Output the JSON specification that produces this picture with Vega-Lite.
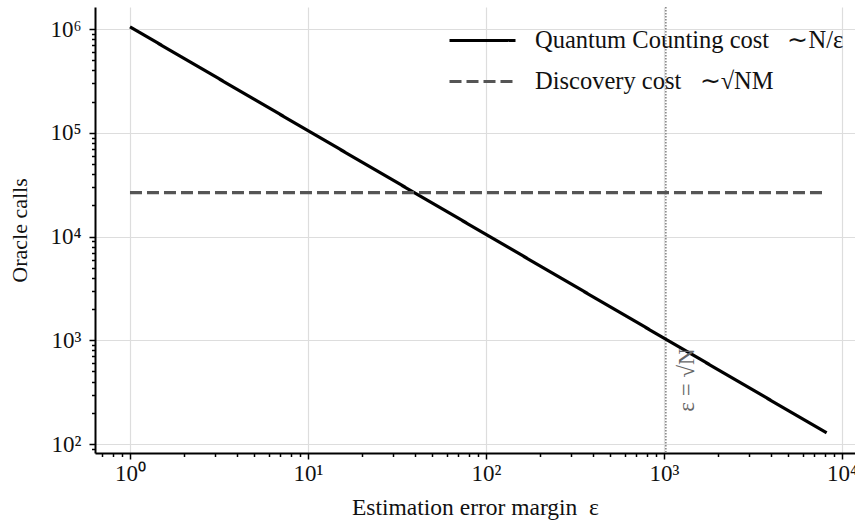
{
  "$schema": "https://vega.github.io/schema/vega-lite/v6.json",
  "width": 760,
  "height": 446,
  "autosize": {"type": "none"},
  "padding": {"left": 95, "top": 7, "right": 0, "bottom": 73},
  "background": "white",
  "config": {
    "view": {"stroke": null},
    "font": "Liberation Serif",
    "legend": {
      "orient": "none",
      "legendX": 371,
      "legendY": 17,
      "title": null,
      "symbolType": "M-2.2,0H2.2",
      "symbolSize": 900,
      "symbolStrokeWidth": 3,
      "labelFont": "Liberation Serif",
      "labelFontSize": 24.5,
      "labelColor": "#111",
      "labelOffset": 36,
      "rowPadding": 13,
      "labelLimit": 400
    }
  },
  "datasets": {
    "series": [
      {"eps": 1, "calls": 1048576, "series": "Quantum Counting cost\u00a0\u00a0 ∼N/ε"},
      {"eps": 8192, "calls": 128, "series": "Quantum Counting cost\u00a0\u00a0 ∼N/ε"},
      {"eps": 1, "calls": 26500, "series": "Discovery cost\u00a0\u00a0 ∼√NM"},
      {"eps": 8192, "calls": 26500, "series": "Discovery cost\u00a0\u00a0 ∼√NM"}
    ],
    "threshold": [{"eps": 1024}],
    "note": [{"eps": 1346, "calls": 414, "label": "ε = √N"}]
  },
  "layer": [
    {
      "data": {"name": "threshold"},
      "mark": {"type": "rule", "color": "#888888", "strokeWidth": 1.6, "strokeDash": [1.5, 1.5]},
      "encoding": {
        "x": {"field": "eps", "type": "quantitative", "scale": {"type": "log", "domain": [0.636, 11830]}, "title": "Estimation error margin\u00a0\u00a0ε"}
      }
    },
    {
      "data": {"name": "series"},
      "mark": {"type": "line", "strokeWidth": 3.2, "clip": true},
      "encoding": {
        "x": {
          "field": "eps", "type": "quantitative",
          "scale": {"type": "log", "domain": [0.636, 11830]},
          "title": "Estimation error margin\u00a0\u00a0ε",
          "axis": {
            "values": [0.7,0.8,0.9,1,2,3,4,5,6,7,8,9,10,20,30,40,50,60,70,80,90,100,200,300,400,500,600,700,800,900,1000,2000,3000,4000,5000,6000,7000,8000,9000,10000],
            "labelExpr": "abs(log(datum.value)/LN10 - round(log(datum.value)/LN10)) < 0.001 ? '10' + substring('⁰¹²³⁴⁵⁶⁷⁸⁹', round(log(datum.value)/LN10), round(log(datum.value)/LN10) + 1) : ''",
            "labelFont": "Liberation Serif",
            "labelFontSize": 23,
            "labelColor": "#111",
            "labelPadding": 3,
            "labelFlush": false,
            "labelOverlap": false,
            "domainColor": "#000",
            "domainWidth": 2,
            "tickColor": "#000",
            "tickWidth": 1.5,
            "tickSize": {"condition": {"test": "abs(log(datum.value)/LN10 - round(log(datum.value)/LN10)) < 0.001", "value": 6}, "value": 3.5},
            "grid": true,
            "gridColor": "#dddddd",
            "gridWidth": 1.2,
            "gridOpacity": {"condition": {"test": "abs(log(datum.value)/LN10 - round(log(datum.value)/LN10)) < 0.001", "value": 1}, "value": 0},
            "titleFont": "Liberation Serif",
            "titleFontSize": 23.5,
            "titleFontWeight": "normal",
            "titleColor": "#111",
            "titlePadding": 10
          }
        },
        "y": {
          "field": "calls", "type": "quantitative",
          "scale": {"type": "log", "domain": [81.9, 1630000]},
          "title": "Oracle calls",
          "axis": {
            "values": [90,100,200,300,400,500,600,700,800,900,1000,2000,3000,4000,5000,6000,7000,8000,9000,10000,20000,30000,40000,50000,60000,70000,80000,90000,100000,200000,300000,400000,500000,600000,700000,800000,900000,1000000],
            "labelExpr": "abs(log(datum.value)/LN10 - round(log(datum.value)/LN10)) < 0.001 ? '10' + substring('⁰¹²³⁴⁵⁶⁷⁸⁹', round(log(datum.value)/LN10), round(log(datum.value)/LN10) + 1) : ''",
            "labelFont": "Liberation Serif",
            "labelFontSize": 23,
            "labelColor": "#111",
            "labelPadding": 8,
            "labelFlush": false,
            "labelOverlap": false,
            "domainColor": "#000",
            "domainWidth": 2,
            "tickColor": "#000",
            "tickWidth": 1.5,
            "tickSize": {"condition": {"test": "abs(log(datum.value)/LN10 - round(log(datum.value)/LN10)) < 0.001", "value": 6}, "value": 3.5},
            "grid": true,
            "gridColor": "#dddddd",
            "gridWidth": 1.2,
            "gridOpacity": {"condition": {"test": "abs(log(datum.value)/LN10 - round(log(datum.value)/LN10)) < 0.001", "value": 1}, "value": 0},
            "titleFont": "Liberation Serif",
            "titleFontSize": 22,
            "titleFontWeight": "normal",
            "titleColor": "#111",
            "titlePadding": 18
          }
        },
        "color": {
          "field": "series", "type": "nominal",
          "scale": {"domain": ["Quantum Counting cost\u00a0\u00a0 ∼N/ε", "Discovery cost\u00a0\u00a0 ∼√NM"], "range": ["#000000", "#555555"]}
        },
        "strokeDash": {
          "field": "series", "type": "nominal",
          "scale": {"domain": ["Quantum Counting cost\u00a0\u00a0 ∼N/ε", "Discovery cost\u00a0\u00a0 ∼√NM"], "range": [[1, 0], [12, 5]]}
        }
      }
    },
    {
      "data": {"name": "note"},
      "mark": {"type": "text", "angle": 270, "fontSize": 23, "color": "#666666", "font": "Liberation Serif"},
      "encoding": {
        "x": {"field": "eps", "type": "quantitative", "scale": {"type": "log", "domain": [0.636, 11830]}, "title": "Estimation error margin\u00a0\u00a0ε"},
        "y": {"field": "calls", "type": "quantitative", "scale": {"type": "log", "domain": [81.9, 1630000]}, "title": "Oracle calls"},
        "text": {"field": "label"}
      }
    }
  ]
}
